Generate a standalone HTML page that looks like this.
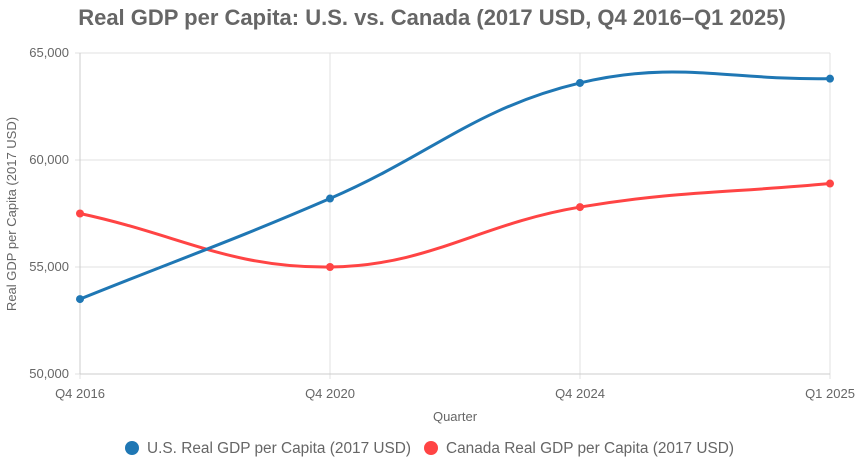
<!DOCTYPE html>
<html><head><meta charset="utf-8"><style>
html,body{margin:0;padding:0;background:#fff;}
svg text{font-family:"Liberation Sans",sans-serif;}
</style></head><body>
<svg id="chart" width="859" height="468" xmlns="http://www.w3.org/2000/svg">
<text x="432" y="25" text-anchor="middle" font-size="22" font-weight="bold" fill="#666">Real GDP per Capita: U.S. vs. Canada (2017 USD, Q4 2016–Q1 2025)</text>
<g id="grid"></g><g id="series"></g>
<text transform="translate(16,214) rotate(-90)" text-anchor="middle" font-size="13" fill="#666">Real GDP per Capita (2017 USD)</text>
<text x="455" y="421" text-anchor="middle" font-size="13" fill="#666">Quarter</text>
<g>
<g><circle cx="132" cy="448" r="7" fill="#1f77b4"/><text x="147" y="453" font-size="15.4" fill="#666">U.S. Real GDP per Capita (2017 USD)</text></g>
<g><circle cx="431" cy="448" r="7" fill="#ff4444"/><text x="446" y="453" font-size="15.4" fill="#666">Canada Real GDP per Capita (2017 USD)</text></g>
</g>
</svg>
<script>
const categories=["Q4 2016","Q4 2020","Q4 2024","Q1 2025"];
const usValues=[53500,58200,63600,63800];
const caValues=[57500,55000,57800,58900];
const yTicks=[50000,55000,60000,65000];
const NS="http://www.w3.org/2000/svg";
const L=80,R=830,T=53,B=374,yMin=50000,yMax=65000;
function xPos(i){return L+i*(R-L)/(categories.length-1);}
function yPos(v){return B-(v-yMin)/(yMax-yMin)*(B-T);}
function mk(tag,attrs,parent){const e=document.createElementNS(NS,tag);for(const k in attrs)e.setAttribute(k,attrs[k]);parent.appendChild(e);return e;}
const grid=document.getElementById('grid');
yTicks.forEach(v=>{const y=yPos(v);
 const l=mk('line',{x1:L-5,x2:R,y1:y,y2:y,stroke:'#e0e0e0','stroke-width':1},grid);
 
 
 const t=mk('text',{x:L-11,y:y+4,'text-anchor':'end','font-size':13,fill:'#666'},grid);t.textContent=v.toLocaleString('en-US');
 
 
});
categories.forEach((c,i)=>{const x=xPos(i);
 const l=mk('line',{x1:x,x2:x,y1:T,y2:B+5,stroke:'#e0e0e0','stroke-width':1},grid);
 
 
 const t=mk('text',{x:x,y:398,'text-anchor':'middle','font-size':13,fill:'#666'},grid);t.textContent=c;
 
 
});
mk('line',{x1:L,x2:L,y1:T,y2:B,stroke:'#ccc'},grid);
mk('line',{x1:L,x2:R,y1:B,y2:B,stroke:'#ccc'},grid);
function pathFor(vals){
 const p=vals.map((v,i)=>({x:xPos(i),y:yPos(v)}));const t=0.4;const cps=[];
 for(let i=0;i<p.length;i++){const pr=p[Math.max(i-1,0)],c=p[i],nx=p[Math.min(i+1,p.length-1)];
  const d01=Math.hypot(c.x-pr.x,c.y-pr.y),d12=Math.hypot(nx.x-c.x,nx.y-c.y);
  let s01=d01/(d01+d12),s12=d12/(d01+d12);if(isNaN(s01))s01=0;if(isNaN(s12))s12=0;
  const fa=t*s01,fb=t*s12;
  cps.push({px:c.x-fa*(nx.x-pr.x),py:c.y-fa*(nx.y-pr.y),nx:c.x+fb*(nx.x-pr.x),ny:c.y+fb*(nx.y-pr.y)});}
 let d='M'+p[0].x+','+p[0].y;
 for(let i=1;i<p.length;i++)d+=' C'+cps[i-1].nx+','+cps[i-1].ny+' '+cps[i].px+','+cps[i].py+' '+p[i].x+','+p[i].y;
 return {d,p};}
const sg=document.getElementById('series');
[[caValues,'#ff4444','canada'],[usValues,'#1f77b4','us']].forEach(([vals,col,nm])=>{
 const r=pathFor(vals);
 const path=mk('path',{d:r.d,fill:'none',stroke:col,'stroke-width':3},sg);
 
 
 r.p.forEach(pt=>{const c=mk('circle',{cx:pt.x,cy:pt.y,r:4,fill:col},sg);
  
  });
});
</script>
</body></html>
